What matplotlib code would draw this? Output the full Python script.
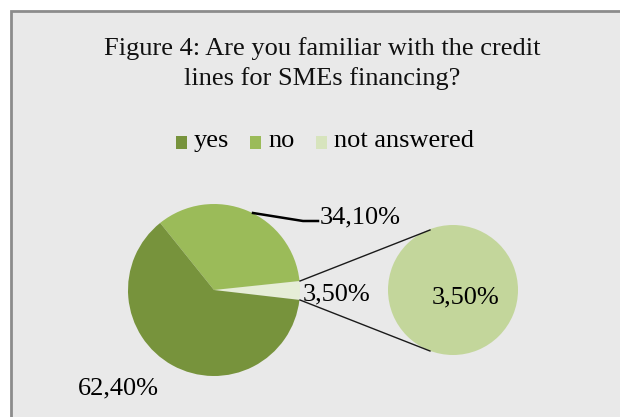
import matplotlib
matplotlib.use("Agg")
import matplotlib.pyplot as plt
from matplotlib.patches import Rectangle, Patch
from matplotlib.legend_handler import HandlerPatch

categories = ["yes", "no", "not answered"]
values = [62.4, 34.1, 3.5]
labels = ["62,40%", "34,10%", "3,50%"]
secondary_values = [3.5]
secondary_labels = ["3,50%"]
title_lines = ["Figure 4: Are you familiar with the credit",
               "lines for SMEs financing?"]

colors = ["#77933C", "#9BBB59", "#D7E4BD"]
other_color = "#E6EDD7"
second_color = "#C3D69B"

W, H = 620, 417
fig = plt.figure(figsize=(6.2, 4.17), dpi=100)
fig.patch.set_facecolor("white")
ax = fig.add_axes([0, 0, 1, 1])

def Y(y):
    return H - y

# main pie: counterclockwise from "not answered"
order = [2, 1, 0]
main_vals = [values[i] for i in order]
main_cols = [other_color, colors[1], colors[0]]
half = values[2] / 100 * 360 / 2
ax.pie(main_vals, colors=main_cols, startangle=-half - 0.3, counterclock=True,
       center=(214, Y(290)), radius=86, frame=True,
       wedgeprops=dict(linewidth=0, zorder=2))
# secondary pie
ax.pie(secondary_values, colors=[second_color], center=(453, Y(290)), radius=65,
       frame=True, wedgeprops=dict(linewidth=0, zorder=2))
ax.set_xlim(0, W)
ax.set_ylim(0, H)
ax.set_aspect("equal")
ax.axis("off")

# chart area background + border
ax.add_patch(Rectangle((11, -20), W + 40, Y(11) + 20, facecolor="#E9E9E9",
                       edgecolor="#8C8C8C", linewidth=2, zorder=0))

serif = ["Liberation Serif", "DejaVu Serif"]
fs = 19

for line, base in zip(title_lines, [55, 85]):
    ax.text(322, Y(base), line, ha="center", va="baseline", fontsize=fs,
            family=serif, color="#111111")

# connector lines
ax.plot([300, 430], [Y(281), Y(230)], color="#1a1a1a", lw=1.0, zorder=3)
ax.plot([300, 430], [Y(300), Y(351)], color="#1a1a1a", lw=1.0, zorder=3)

# leader line for 34,10%
ax.plot([253, 303, 318], [Y(213), Y(221), Y(221)], color="black", lw=1.8, zorder=3)

ax.text(320, Y(223), labels[1], ha="left", va="baseline", fontsize=fs, family=serif)
ax.text(303, Y(300), labels[2], ha="left", va="baseline", fontsize=fs, family=serif)
ax.text(78, Y(394), labels[0], ha="left", va="baseline", fontsize=fs, family=serif)
ax.text(466, Y(303), secondary_labels[0], ha="center", va="baseline", fontsize=fs,
        family=serif)


def low_square(legend, orig_handle, xdescent, ydescent, width, height, fontsize):
    return Rectangle((-xdescent, -ydescent - 3.5), width, height)


handles = [Patch(facecolor=c, edgecolor="none") for c in colors]
fig.legend(handles, categories, loc="center", bbox_to_anchor=(325 / W, 1 - 141 / H),
           ncol=3, frameon=False, prop=dict(family=serif, size=fs),
           handlelength=0.42, handleheight=0.42, handletextpad=0.27,
           columnspacing=0.8, borderpad=0, borderaxespad=0,
           handler_map={Patch: HandlerPatch(patch_func=low_square)})

fig.savefig("out.png", dpi=100, facecolor="white")
